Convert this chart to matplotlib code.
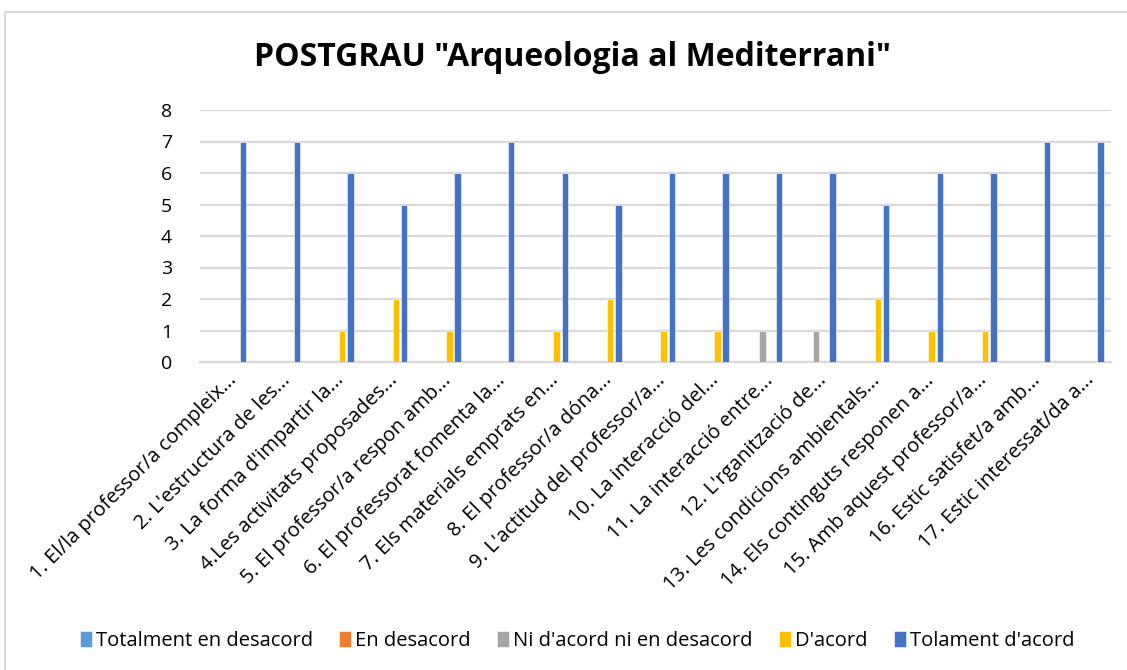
import numpy as np
import matplotlib.pyplot as plt
from matplotlib.patches import Rectangle

# ── Data ──────────────────────────────────────────────────────────────────────
categories = [
    "1. El/la professor/a compleix...",
    "2. L'estructura de les...",
    "3. La forma d'impartir la...",
    "4.Les activitats proposades...",
    "5. El professor/a respon amb...",
    "6. El professorat fomenta la...",
    "7. Els materials emprats en...",
    "8. El professor/a dóna...",
    "9. L'actitud del professor/a...",
    "10. La interacció del...",
    "11. La interacció entre...",
    "12. L'rganització de...",
    "13. Les condicions ambientals...",
    "14. Els continguts responen a...",
    "15. Amb aquest professor/a...",
    "16. Estic satisfet/a amb...",
    "17. Estic interessat/da a...",
]
series_names = ["Totalment en desacord", "En desacord", "Ni d'acord ni en desacord",
                "D'acord", "Tolament d'acord"]
totalment_desacord = [0] * 17
en_desacord = [0] * 17
ni_ni = [0, 0, 0, 0, 0, 0, 0, 0, 0, 0, 1, 1, 0, 0, 0, 0, 0]
d_acord = [0, 0, 1, 2, 1, 0, 1, 2, 1, 1, 0, 0, 2, 1, 1, 0, 0]
tolament = [7, 7, 6, 5, 6, 7, 6, 5, 6, 6, 6, 6, 5, 6, 6, 7, 7]
yticks = [0, 1, 2, 3, 4, 5, 6, 7, 8]

COLORS = ["#5B9BD5", "#ED7D31", "#A5A5A5", "#FFC000", "#4472C4"]
FONT = "Open Sans"

# ── Figure ────────────────────────────────────────────────────────────────────
fig = plt.figure(figsize=(11.27, 6.70), dpi=100)
ax = fig.add_axes([200 / 1127, 1 - 362 / 670, 911 / 1127, 252 / 670])

x = np.arange(len(categories))
slot = 0.153
width = 0.12
all_series = [totalment_desacord, en_desacord, ni_ni, d_acord, tolament]
for i, (vals, name, col) in enumerate(zip(all_series, series_names, COLORS)):
    ax.bar(x + (i - 2) * slot, vals, width, color=col, label=name,
           edgecolor="white", linewidth=0.4, zorder=3)

ax.set_xlim(-0.5, len(categories) - 0.5)
ax.set_ylim(0, 8)
ax.set_yticks(yticks)
ax.set_yticklabels([str(t) for t in yticks], fontsize=14, family=FONT)
ax.yaxis.grid(True, color="#D9D9D9", linewidth=1.6, zorder=0)
ax.set_axisbelow(True)
for s in ["top", "right", "left"]:
    ax.spines[s].set_visible(False)
ax.spines["bottom"].set_color("#D9D9D9")
ax.spines["bottom"].set_linewidth(1.6)
ax.tick_params(axis="both", length=0)
ax.tick_params(axis="y", pad=20)

ax.set_xticks(x)
ax.set_xticklabels(categories, rotation=45, ha="right", rotation_mode="anchor",
                   fontsize=14.5, family=FONT)
ax.tick_params(axis="x", pad=6)

fig.text(0.508, 1 - 57 / 670, 'POSTGRAU "Arqueologia al Mediterrani"',
         ha="center", va="center", fontsize=23, fontweight="bold", family=FONT)

leg = fig.legend(loc="center", bbox_to_anchor=(0.512, 1 - 641 / 670), ncol=5,
                 frameon=False, prop={"family": FONT, "size": 14.5},
                 handlelength=0.6, handleheight=0.8, handletextpad=0.2,
                 columnspacing=1.3)

# chart border
fig.patches.append(Rectangle((5 / 1127, -0.1), 1.2, 1 - 12 / 670 + 0.1,
                             transform=fig.transFigure, fill=False,
                             edgecolor="#D9D9D9", linewidth=1.5))

fig.savefig("out.png", dpi=100)
